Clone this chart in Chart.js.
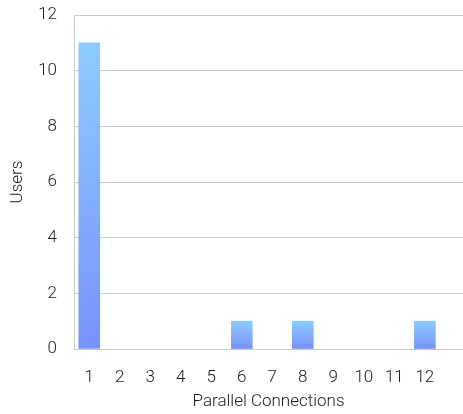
<!DOCTYPE html>
<html>
<head>
<meta charset="utf-8">
<script src="https://cdn.jsdelivr.net/npm/chart.js@4"></script>
<style>
  html, body { margin: 0; padding: 0; background: #ffffff; }
  #wrap { width: 463px; height: 414px; }
</style>
</head>
<body>
<div id="wrap"><canvas id="chart" width="463" height="414"></canvas></div>
<script>
// Number of parallel connections and how many users reported each
const connections = [1, 2, 3, 4, 5, 6, 7, 8, 9, 10, 11, 12];
const users = [11, 0, 0, 0, 0, 1, 0, 1, 0, 0, 0, 1];
const yTickValues = [0, 2, 4, 6, 8, 10, 12];

const FONT = "Roboto, 'Liberation Sans', Arial, sans-serif";
const GRID = '#c9c9c9';
const TEXT = '#1a1a1a';

// Each bar gets its own top-to-bottom gradient; empty bars stay invisible
function barFill(ctx) {
  const chart = ctx.chart;
  if (!chart.chartArea || !ctx.raw) return 'rgba(0,0,0,0)';
  const ys = chart.scales.y;
  const top = ys.getPixelForValue(ctx.raw.y);
  const base = ys.getPixelForValue(0);
  if (!(base - top > 0.5)) return 'rgba(0,0,0,0)';
  const g = chart.ctx.createLinearGradient(0, top, 0, base);
  g.addColorStop(0, '#8dcbff');
  g.addColorStop(1, '#7892fb');
  return g;
}

new Chart(document.getElementById('chart'), {
  type: 'bar',
  data: {
    datasets: [{
      data: connections.map((c, i) => ({ x: c, y: users[i] })),
      backgroundColor: barFill,
      borderWidth: 0,
      barThickness: 21
    }]
  },
  options: {
    responsive: false,
    animation: false,
    devicePixelRatio: 1,
    layout: { padding: 0 },
    plugins: { legend: { display: false }, tooltip: { enabled: false } },
    scales: {
      x: {
        type: 'linear',
        offset: false,
        min: 0.5,
        max: 13.25,
        afterFit: (axis) => {
          axis.height = 65;
          axis.paddingLeft = 0;
          axis.paddingRight = 0;
        },
        grid: { display: false, drawTicks: false },
        border: { display: true, color: GRID, width: 1 },
        afterBuildTicks: (axis) => { axis.ticks = connections.map(v => ({ value: v })); },
        ticks: {
          autoSkip: false,
          maxRotation: 0,
          padding: 19,
          color: TEXT,
          font: { family: FONT, size: 17, weight: 300 },
          callback: (v) => String(v)
        },
        title: {
          display: true,
          text: 'Parallel Connections',
          color: TEXT,
          padding: { top: 0, bottom: 2 },
          font: { family: FONT, size: 17, weight: 300 }
        }
      },
      y: {
        min: 0,
        max: 12,
        afterFit: (axis) => {
          axis.width = 74;
          axis.paddingTop = 15;
          axis.paddingBottom = 0;
        },
        afterBuildTicks: (axis) => { axis.ticks = yTickValues.map(v => ({ value: v })); },
        grid: { color: GRID, lineWidth: 1, drawTicks: false },
        border: { display: true, color: GRID, width: 1 },
        ticks: {
          padding: 17,
          color: TEXT,
          font: { family: FONT, size: 17, weight: 300 }
        },
        title: {
          display: true,
          text: 'Users',
          color: TEXT,
          padding: { top: 8, bottom: 0 },
          font: { family: FONT, size: 17, weight: 300 }
        }
      }
    }
  }
});
</script>
</body>
</html>
